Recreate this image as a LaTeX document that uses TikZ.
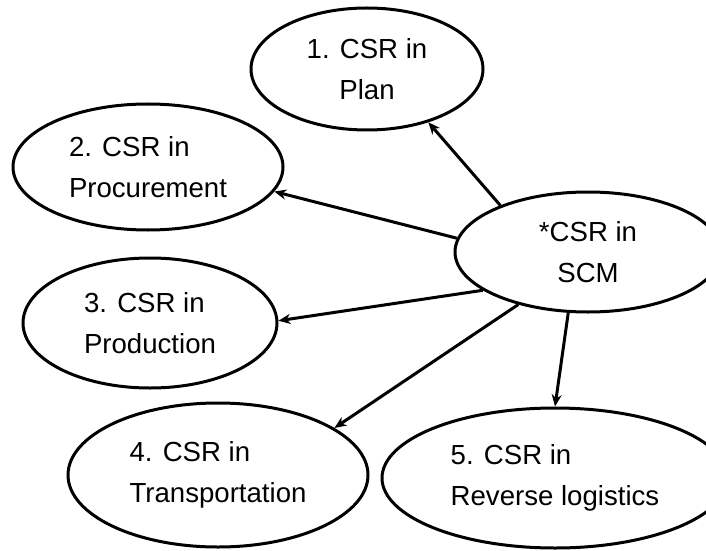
\documentclass[tikz,border=0pt]{standalone}
\usepackage{fontspec}
\setmainfont{Liberation Sans}
\usetikzlibrary{shapes.geometric,arrows.meta}

\begin{document}
\begin{tikzpicture}[
        x=1pt,y=1pt,
        line join=round,
        % 椭圆样式
        topic/.style={ellipse,draw,line width=3pt,inner sep=0pt,
            font=\fontsize{27.6}{41}\selectfont},
        link/.style={line width=3pt,-{Stealth[length=12pt,width=10pt]}},
    ]
    \useasboundingbox (0,0) rectangle (706,550);
    \clip (0,0) rectangle (706,550);

    % 中心节点
    \node[topic,align=center,minimum width=266,minimum height=120] (scm) at (588,298) {*CSR in\\SCM};

    % 五个分支
    \node[topic,align=center,minimum width=232,minimum height=122] (plan) at (367,481) {1. CSR in\\Plan};
    \node[topic,align=left,minimum width=270,minimum height=126] (proc) at (148,383) {2. CSR in\\Procurement};
    \node[topic,align=left,minimum width=254,minimum height=130] (prod) at (150,227) {3. CSR in\\Production};
    \node[topic,align=left,minimum width=300,minimum height=144] (trans) at (218,75) {4. CSR in\\Transportation};
    \node[topic,align=left,minimum width=346,minimum height=140] (rev) at (555,72) {5. CSR in\\Reverse logistics};

    % 箭头
    \draw[link] (scm.152) -- (plan.-41.5);
    \draw[link] (scm.174) -- (proc.-11);
    \draw[link] (scm.200) -- (prod.1);
    \draw[link] (scm.217) -- (trans.22);
    \draw[link] (scm.252) -- (rev.90);
\end{tikzpicture}
\end{document}
